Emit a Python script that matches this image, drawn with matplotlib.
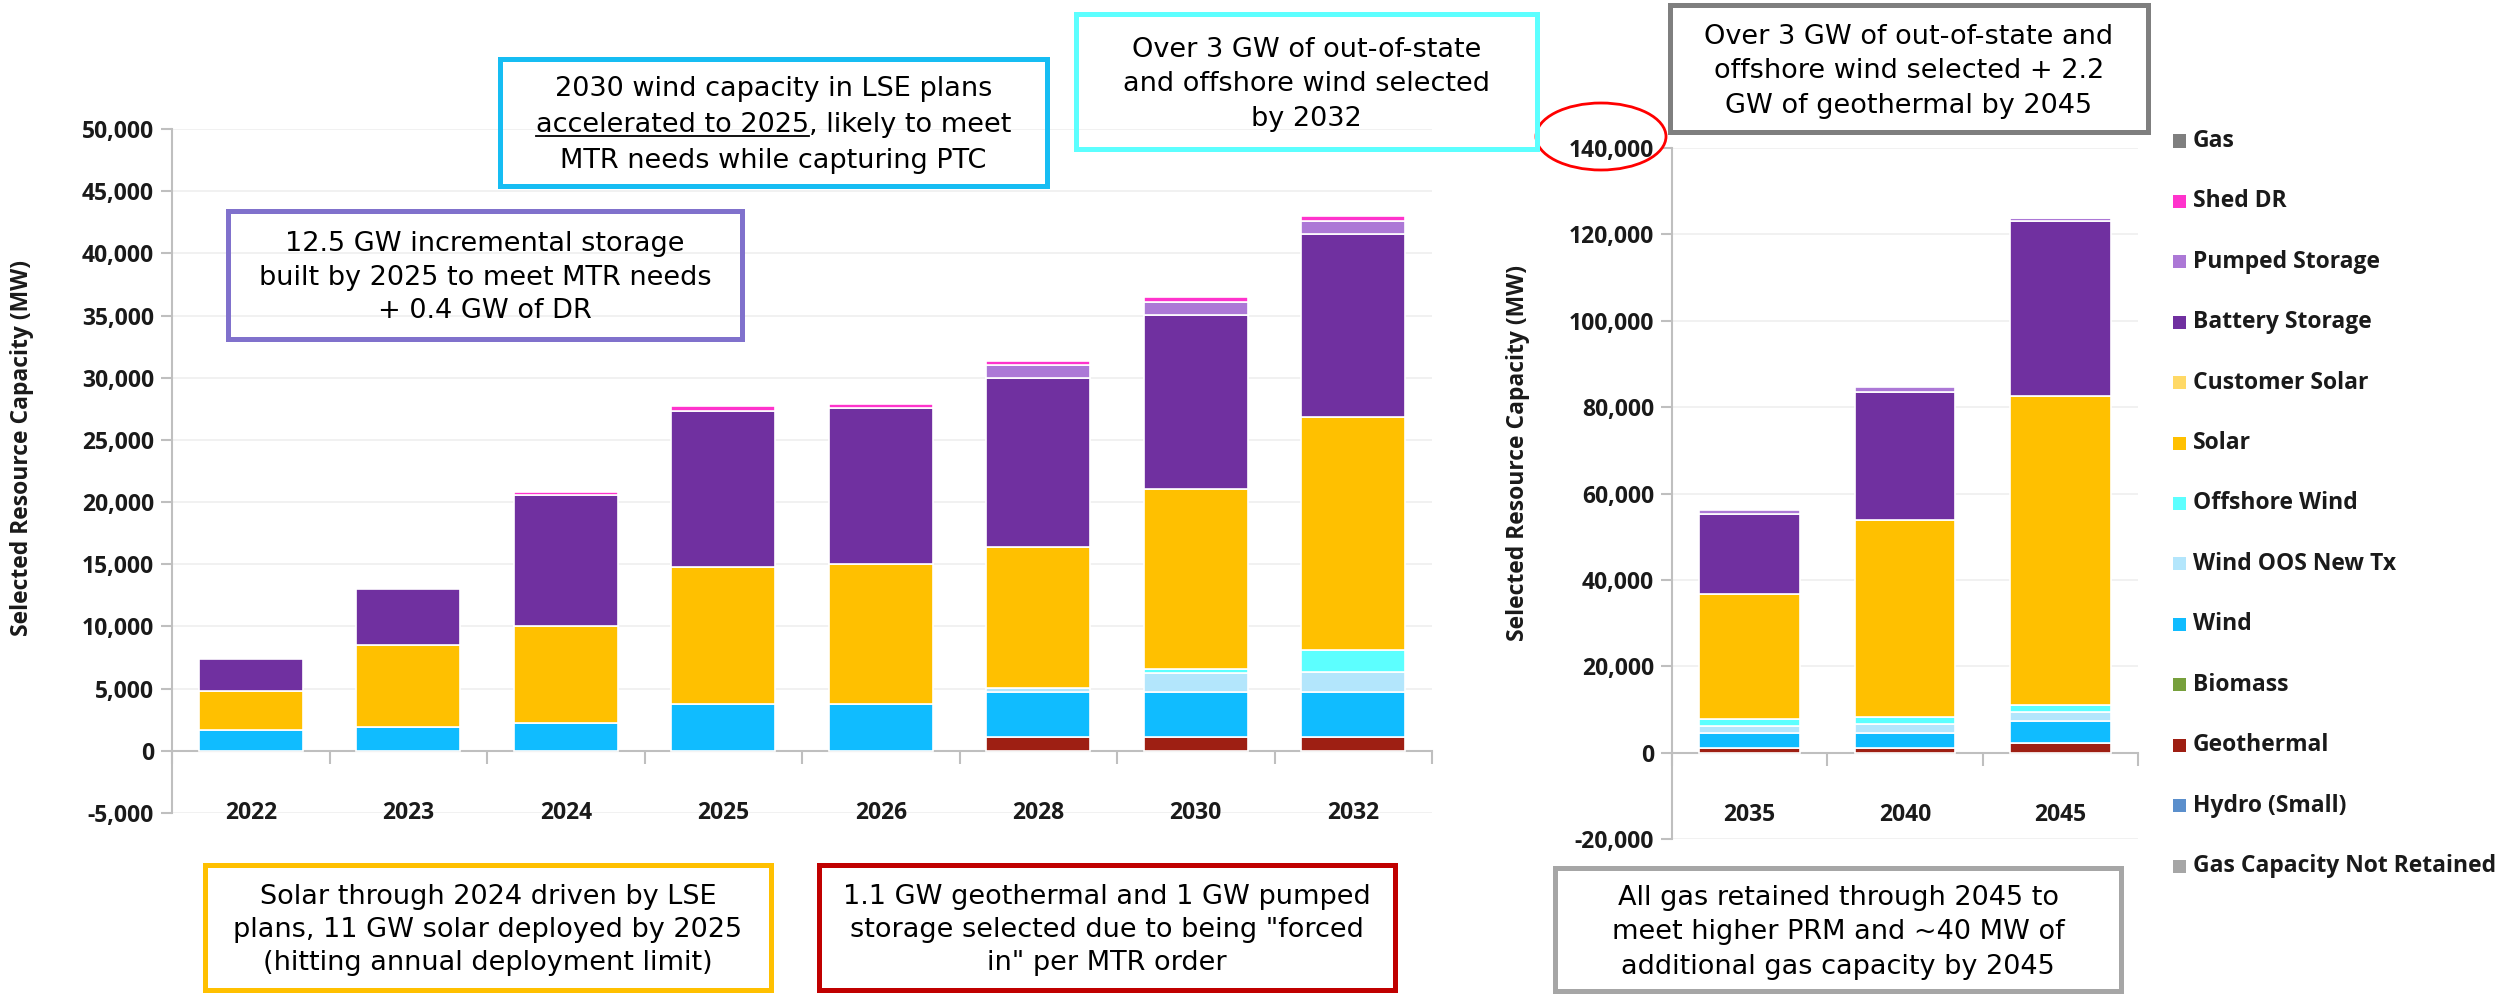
import numpy as np
import matplotlib
matplotlib.use('Agg')
import matplotlib.pyplot as plt
from matplotlib.patches import Rectangle, Ellipse
from matplotlib.lines import Line2D
from matplotlib.ticker import FuncFormatter

W, H = 2497, 994

# categories
years_near = ['2022', '2023', '2024', '2025', '2026', '2028', '2030', '2032']
years_far = ['2035', '2040', '2045']

# selected capacity, MW
geo_near = [0, 0, 0, 0, 0, 1150, 1150, 1150]
wind_near = [1700, 1900, 2270, 3730, 3800, 3550, 3550, 3550]
woos_near = [0, 0, 0, 0, 0, 380, 1530, 1600]
offshore_near = [0, 0, 0, 0, 0, 0, 370, 1780]
solar_near = [3150, 6600, 7770, 11070, 11200, 11320, 14440, 18800]
battery_near = [2530, 4500, 10540, 12550, 12550, 13600, 14000, 14700]
pumped_near = [0, 0, 0, 0, 0, 1000, 1040, 1050]
shed_near = [0, 0, 270, 350, 350, 380, 420, 400]

geo_far = [1120, 1120, 2160]
wind_far = [3350, 3350, 5170]
woos_far = [1630, 2090, 2010]
offshore_far = [1770, 1770, 1690]
solar_far = [28830, 45570, 71570]
battery_far = [18600, 29700, 40400]
pumped_far = [800, 1000, 900]
shed_far = [0, 0, 0]
gas_far = [0, 0, 40]

# legend order (top to bottom)
legend_names = ['Gas', 'Shed DR', 'Pumped Storage', 'Battery Storage', 'Customer Solar',
                'Solar', 'Offshore Wind', 'Wind OOS New Tx', 'Wind', 'Biomass',
                'Geothermal', 'Hydro (Small)', 'Gas Capacity Not Retained']
legend_colors = ['#7F7F7F', '#FF33CC', '#AC78D6', '#7030A0', '#FFD966',
                 '#FFC000', '#5CFFFF', '#B3E6FC', '#10BCFF', '#77A03C',
                 '#9E1F13', '#5B8FCC', '#A6A6A6']
col = dict(zip(legend_names, legend_colors))

LBL = 'Open Sans'
NOTE = 'DejaVu Sans'
LSIZE = 16.5

fig = plt.figure(figsize=(W / 100, H / 100), dpi=100)


def fbox(x0, y0, x1, y1):
    return [x0 / W, 1 - y1 / H, (x1 - x0) / W, (y1 - y0) / H]


def stacked(ax, cats, series, width):
    x = np.arange(len(cats))
    bottom = np.zeros(len(cats))
    for name, vals in series:
        vals = np.array(vals, dtype=float)
        m = vals > 0
        ax.bar(x[m], vals[m], width, bottom=bottom[m], color=col[name],
               edgecolor='white', linewidth=1.2, zorder=3)
        bottom += vals


def style_axes(ax, cats, ymin, ymax, step, label_y):
    n = len(cats)
    ax.set_xlim(-0.5, n - 0.5)
    ax.set_ylim(ymin, ymax)
    ax.set_yticks(np.arange(ymin, ymax + 1, step))
    ax.yaxis.set_major_formatter(FuncFormatter(lambda v, p: '{:,.0f}'.format(v)))
    ax.set_xticks(np.arange(n + 1) - 0.5)
    ax.set_xticklabels([])
    for s in ['top', 'right']:
        ax.spines[s].set_visible(False)
    ax.spines['left'].set_color('#BFBFBF')
    ax.spines['left'].set_linewidth(1.5)
    ax.spines['bottom'].set_position(('data', 0))
    ax.spines['bottom'].set_color('#BFBFBF')
    ax.spines['bottom'].set_linewidth(1.5)
    ax.tick_params(axis='x', direction='out', length=9, width=1.5, color='#BFBFBF')
    ax.tick_params(axis='y', direction='out', length=8, width=1.5, color='#BFBFBF',
                   labelsize=LSIZE, labelcolor='#1A1A1A', pad=5)
    for t in ax.get_yticklabels():
        t.set_fontfamily(LBL)
        t.set_fontweight('bold')
    ax.yaxis.grid(True, color='#EFEFEF', linewidth=1.2, zorder=0)
    ax.set_axisbelow(True)
    for i, c in enumerate(cats):
        ax.text(i, label_y, c, ha='center', va='center', fontsize=LSIZE,
                fontweight='bold', family=LBL, color='#1A1A1A')


# left chart: 2022-2032
ax1 = fig.add_axes(fbox(172, 129, 1432, 813))
stacked(ax1, years_near, [('Geothermal', geo_near), ('Wind', wind_near),
                          ('Wind OOS New Tx', woos_near), ('Offshore Wind', offshore_near),
                          ('Solar', solar_near), ('Battery Storage', battery_near),
                          ('Pumped Storage', pumped_near), ('Shed DR', shed_near)], 0.66)
style_axes(ax1, years_near, -5000, 50000, 5000, -5000)

# right chart: 2035-2045
ax2 = fig.add_axes(fbox(1672, 148, 2138, 839))
stacked(ax2, years_far, [('Geothermal', geo_far), ('Wind', wind_far),
                         ('Wind OOS New Tx', woos_far), ('Offshore Wind', offshore_far),
                         ('Solar', solar_far), ('Battery Storage', battery_far),
                         ('Pumped Storage', pumped_far), ('Shed DR', shed_far),
                         ('Gas', gas_far)], 0.65)
style_axes(ax2, years_far, -20000, 140000, 20000, -14500)

for xp, yp in [(22, 448), (1518, 453)]:
    fig.text(xp / W, 1 - yp / H, 'Selected Resource Capacity (MW)', rotation=90,
             ha='center', va='center', fontsize=LSIZE, fontweight='bold', family=LBL,
             color='#1A1A1A')

# legend
leg_y = np.linspace(141, 866, len(legend_names))
for name, c, yy in zip(legend_names, legend_colors, leg_y):
    fig.add_artist(Rectangle((2173 / W, 1 - (yy + 6.5) / H), 13 / W, 13 / H,
                             transform=fig.transFigure, color=c, lw=0))
    fig.text(2193 / W, 1 - yy / H, name, ha='left', va='center', fontsize=LSIZE,
             fontweight='bold', family=LBL, color='#1A1A1A')

# red circle around the 140,000 label
fig.add_artist(Ellipse((1601 / W, 1 - 136.5 / H), 130 / W, 67 / H,
                       transform=fig.transFigure, fill=False, edgecolor='#FF0000', lw=2))

renderer = fig.canvas.get_renderer()


def note(x0, y0, x1, y1, lines, edge, gap=34.5, size=19.5, underline=None):
    fig.add_artist(Rectangle((x0 / W, 1 - y1 / H), (x1 - x0) / W, (y1 - y0) / H,
                             transform=fig.transFigure, fill=False, edgecolor=edge,
                             lw=3.6, zorder=5))
    cx = (x0 + x1) / 2
    cy = (y0 + y1) / 2
    n = len(lines)
    for i, line in enumerate(lines):
        yc = cy + (i - (n - 1) / 2) * gap
        base = yc + 0.36 * size * 100 / 72
        t = fig.text(cx / W, 1 - base / H, line, ha='center', va='baseline',
                     fontsize=size, family=NOTE, color='black', zorder=6)
        if underline and line.startswith(underline):
            bb = t.get_window_extent(renderer)
            tmp = fig.text(0, 0, underline, fontsize=size, family=NOTE)
            wpre = tmp.get_window_extent(renderer).width
            tmp.remove()
            uy = 1 - (base + 4) / H
            fig.add_artist(Line2D([bb.x0 / W, (bb.x0 + wpre) / W], [uy, uy],
                                  transform=fig.transFigure, color='black', lw=1.3))


note(500, 59, 1047, 186, ['2030 wind capacity in LSE plans',
                          'accelerated to 2025, likely to meet',
                          'MTR needs while capturing PTC'], '#16BDF3', gap=36,
     underline='accelerated to 2025')
note(228, 211, 742, 339, ['12.5 GW incremental storage',
                          'built by 2025 to meet MTR needs',
                          '+ 0.4 GW of DR'], '#8071CC', gap=33.5)
note(1076, 14, 1537, 149, ['Over 3 GW of out-of-state',
                           'and offshore wind selected',
                           'by 2032'], '#5CFFFF')
note(1670, 5, 2148, 132, ['Over 3 GW of out-of-state and',
                          'offshore wind selected + 2.2',
                          'GW of geothermal by 2045'], '#7F7F7F')
note(205, 865, 771, 990, ['Solar through 2024 driven by LSE',
                          'plans, 11 GW solar deployed by 2025',
                          '(hitting annual deployment limit)'], '#FFC000', gap=33)
note(819, 865, 1395, 990, ['1.1 GW geothermal and 1 GW pumped',
                           'storage selected due to being "forced',
                           'in" per MTR order'], '#C00000', gap=33)
note(1555, 868, 2121, 991, ['All gas retained through 2045 to',
                            'meet higher PRM and ~40 MW of',
                            'additional gas capacity by 2045'], '#A6A6A6')

fig.savefig('out.png', dpi=100)
